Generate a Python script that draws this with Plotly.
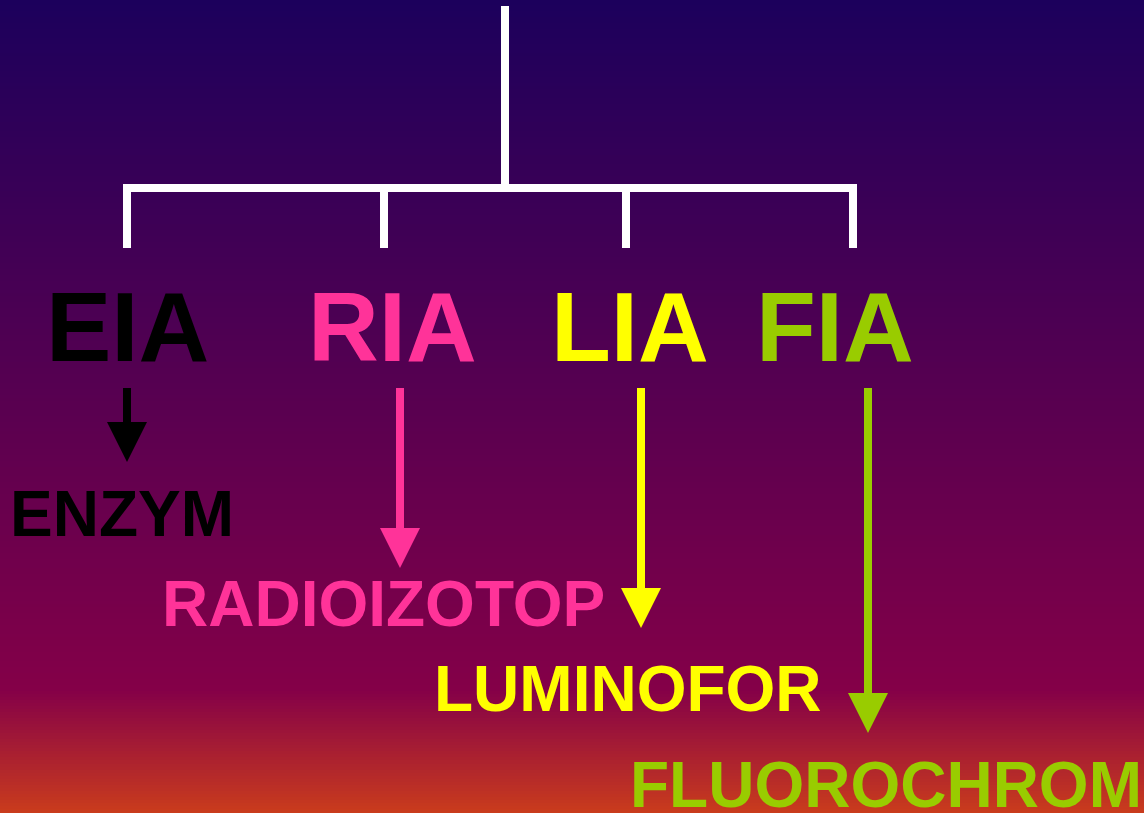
import plotly.graph_objects as go

# ---- content ----
methods = ["EIA", "RIA", "LIA", "FIA"]
labels = ["ENZYM", "RADIOIZOTOP", "LUMINOFOR", "FLUOROCHROM"]
colors = ["#000000", "#FF3399", "#FFFF00", "#99CC00"]

# ---- layout (pixel coordinates, y down) ----
W, H = 1144, 813
branch_x = [127, 384, 626, 853]
method_x = [127, 392, 630, 835]
method_y = 327
arrow_x = [127, 400, 641, 868]
arrow_top = 388
arrow_tip = [462, 568, 628, 733]
label_x = [122, 383, 628, 886]
label_y = [514, 604, 689, 785]
stem_x = 505
stem_top = 6
bar_y = 188
branch_bottom = 248

# background gradient stops (y px, rgb)
bg_stops = [(0, (28, 0, 92)), (690, (132, 0, 72)), (813, (202, 60, 28))]

def bg_color(y):
    for (y0, c0), (y1, c1) in zip(bg_stops[:-1], bg_stops[1:]):
        if y0 <= y <= y1:
            t = (y - y0) / (y1 - y0)
            return tuple(round(a + (b - a) * t) for a, b in zip(c0, c1))
    return bg_stops[-1][1]

rows = list(range(0, H + 1, 3))
cscale = [[r / H, "rgb(%d,%d,%d)" % bg_color(r)] for r in rows]
cscale[-1][0] = 1.0

fig = go.Figure()
fig.add_trace(go.Heatmap(
    x=[0, W], y=rows, z=[[r, r] for r in rows],
    colorscale=cscale, zmin=0, zmax=H, showscale=False,
    hoverinfo="skip", zsmooth=False,
))

shapes = []
white = "#FFFFFF"
shapes.append(dict(type="line", x0=stem_x, x1=stem_x, y0=stem_top, y1=bar_y,
                   line=dict(color=white, width=8)))
shapes.append(dict(type="line", x0=branch_x[0] - 4, x1=branch_x[-1] + 4, y0=bar_y, y1=bar_y,
                   line=dict(color=white, width=8)))
for bx in branch_x:
    shapes.append(dict(type="line", x0=bx, x1=bx, y0=bar_y, y1=branch_bottom,
                       line=dict(color=white, width=8)))

head_len, head_half = 40, 20
for ax, tip, col in zip(arrow_x, arrow_tip, colors):
    shapes.append(dict(type="line", x0=ax, x1=ax, y0=arrow_top, y1=tip - head_len + 2,
                       line=dict(color=col, width=8)))
    shapes.append(dict(type="path",
                       path=f"M {ax - head_half} {tip - head_len} L {ax + head_half} {tip - head_len} L {ax} {tip} Z",
                       fillcolor=col, line=dict(width=0)))

annotations = []
for m, x, col in zip(methods, method_x, colors):
    annotations.append(dict(x=x, y=method_y, text=m, showarrow=False,
                            xanchor="center", yanchor="middle",
                            font=dict(family="Liberation Sans, Arial", size=98, color=col, weight="bold")))
for lab, x, y, col in zip(labels, label_x, label_y, colors):
    annotations.append(dict(x=x, y=y, text=lab, showarrow=False,
                            xanchor="center", yanchor="middle",
                            font=dict(family="Liberation Sans, Arial", size=64, color=col, weight="bold")))

fig.update_layout(
    width=W, height=H,
    margin=dict(l=0, r=0, t=0, b=0),
    paper_bgcolor="rgb(28,0,92)", plot_bgcolor="rgb(28,0,92)",
    xaxis=dict(range=[0, W], visible=False, fixedrange=True),
    yaxis=dict(range=[H, 0], visible=False, fixedrange=True),
    shapes=shapes, annotations=annotations, showlegend=False,
)
fig.write_html("out.html", config={"displayModeBar": False},
               post_script="document.body.style.margin='0';document.body.style.overflow='hidden';")
